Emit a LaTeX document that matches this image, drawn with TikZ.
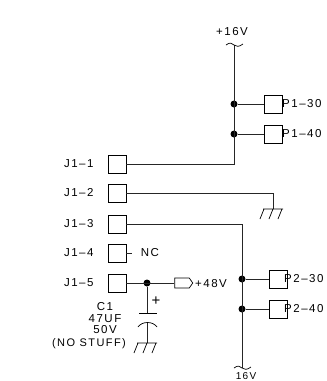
\documentclass[tikz,border=0pt]{standalone}
\usepackage{fontspec}
\setmainfont[LetterSpace=13]{Liberation Sans}
\usetikzlibrary{shapes,positioning}
\tikzset{
	wire/.style = {line width = 0.9pt, black!85},
	pad/.style = {draw, line width = 0.7pt, minimum width = 18pt, minimum height = 18pt, inner sep = 0},
	tag/.style = {font=\fontsize{11.5}{11.5}\selectfont, inner sep = 0},
	dot/.style = {circle, fill = black, minimum size = 7pt, inner sep = 0},
	flag/.style = {draw, line width = 0.7pt, signal, signal to = east, signal pointer angle = 110,
		minimum width = 18pt, minimum height = 10pt, inner sep = 0},
	pics/gnd/.style = {code = {
		\draw[line width = 0.7pt] (-10,0) -- (10,0)
			(-9,0) -- (-13,10) (0,0) -- (-4,10) (9,0) -- (5,10);
	}},
	pics/rail/.style = {code = {
		\draw[line width = 0.7pt] (-8,0) .. controls (-4,-3) and (-2,-2) .. (0,0)
			.. controls (2,2) and (5,2) .. (9,-1);
	}},
}
\begin{document}
\begin{tikzpicture}[x=1pt,y=-1pt]
\useasboundingbox (0,0) rectangle (327,381);
% connector pads
\node[pad] (j1) at (117,164) {};
\node[pad] (j2) at (117,193) {};
\node[pad] (j3) at (117,224) {};
\node[pad] (j4) at (117,253) {};
\node[pad] (j5) at (117,283) {};
\node[tag, left = 14pt of j1] (j1t) {J1--1};
\node[tag, left = 14pt of j2] (j2t) {J1--2};
\node[tag, left = 14pt of j3] (j3t) {J1--3};
\node[tag, left = 14pt of j4] (j4t) {J1--4};
\node[tag, left = 14pt of j5] (j5t) {J1--5};
\node[tag] (nc) at (150,253) {NC};
\coordinate (ncend) at (132,253);
% +16V rail
\node[tag] (top) at (232,32) {+16V};
\coordinate (railtop) at (234,45);
\coordinate (railbot) at (234,164);
\node[dot] (d1) at (234,104) {};
\node[dot] (d2) at (234,134) {};
\node[pad] (p1) at (273,104) {};
\node[pad] (p2) at (273,134) {};
\node[tag, anchor = west] (p1t) at (282,104) {P1--30};
\node[tag, anchor = west] (p2t) at (282,134) {P1--40};
% -16V rail
\coordinate (lowtop) at (242,224);
\coordinate (lowbot) at (242,368);
\node[dot] (d3) at (242,279) {};
\node[dot] (d4) at (242,309) {};
\node[pad] (p3) at (278,279) {};
\node[pad] (p4) at (278,309) {};
\node[tag, anchor = west] (p3t) at (284,279) {P2--30};
\node[tag, anchor = west] (p4t) at (284,309) {P2--40};
\node[tag, font=\fontsize{10}{10}\selectfont, anchor = base] (bot) at (246,379.5) {16V};
% chassis ground of J1-2
\coordinate (g1) at (273,193);
\coordinate (g2) at (273,209);
% +48V and C1
\node[dot] (d5) at (147,283) {};
\node[flag] (f1) at (182,283) {};
\node[tag, anchor = west] (f1t) at (195,284) {+48V};
\coordinate (cp) at (147,313);
\coordinate (cm) at (147,323);
\coordinate (g3) at (147,343);
\node[tag, font=\fontsize{15}{15}\selectfont] (plus) at (156,301) {+};
\node[tag] (c1a) at (105,307) {C1};
\node[tag] (c1b) at (105,319) {47UF};
\node[tag] (c1c) at (105,330) {50V};
\node[tag, font=\fontsize{11}{11}\selectfont] (c1d) at (89,344) {(NO STUFF)};
% wires
\draw[wire] (j1) -- (railbot) -- (railtop);
\draw[wire] (d1) -- (p1);
\draw[wire] (d2) -- (p2);
\draw[wire] (j2) -- (g1) -- (g2);
\draw[wire] (j3) -- (lowtop) -- (lowbot);
\draw[wire] (d3) -- (p3);
\draw[wire] (d4) -- (p4);
\draw[wire] (j4) -- (ncend);
\draw[wire] (j5) -- (f1);
\draw[wire] (d5) -- (cp);
\draw[wire] (cm) -- (g3);
\draw[line width = 0.9pt] (139,313) -- (157,313);
\draw[line width = 0.7pt] (138,327) .. controls (142,321) and (153,321) .. (157,327);
\pic at (g2) {gnd};
\pic at (g3) {gnd};
\pic at (railtop) {rail};
\pic at (lowbot) {rail};
\end{tikzpicture}
\end{document}
